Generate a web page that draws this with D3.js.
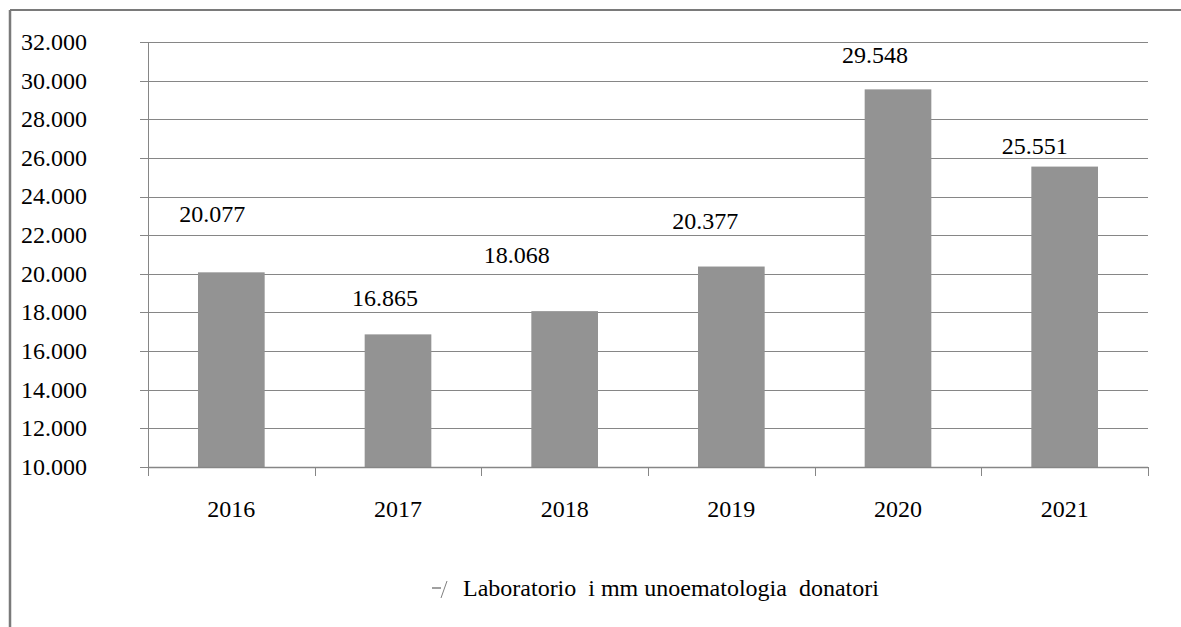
<!DOCTYPE html>
<html>
<head>
<meta charset="utf-8">
<script src="https://cdn.jsdelivr.net/npm/d3@7"></script>
<style>
  html, body { margin: 0; padding: 0; background: #fff; }
  svg { display: block; }
  text { font-family: "Liberation Serif", serif; fill: #000; }
</style>
</head>
<body>
<svg id="chart" width="1181" height="627"></svg>
<script>
// ---- data ----
const years = ["2016", "2017", "2018", "2019", "2020", "2021"];
const values = [20077, 16865, 18068, 20377, 29548, 25551];
const valueLabels = ["20.077", "16.865", "18.068", "20.377", "29.548", "25.551"];
const yTicks = [10000, 12000, 14000, 16000, 18000, 20000, 22000, 24000, 26000, 28000, 30000, 32000];
const yTickLabels = ["10.000", "12.000", "14.000", "16.000", "18.000", "20.000", "22.000", "24.000", "26.000", "28.000", "30.000", "32.000"];
const seriesName = "Laboratorio  i mm unoematologia  donatori";

// ---- layout (manual label nudges as in the original) ----
const labelNudge = [[14, 50], [20, 28], [-15, 48], [7, 38], [10, 26], [3, 13]];

const svg = d3.select("#chart");
const W = 1181, H = 627;
const plot = { left: 148, right: 1148, top: 42, bottom: 467 };
const FONT = "Liberation Serif, serif";

// frame
svg.append("line").attr("x1", 10).attr("x2", W).attr("y1", 10).attr("y2", 10)
  .attr("stroke", "#7a7a7a").attr("stroke-width", 2);
svg.append("line").attr("x1", 10).attr("x2", 10).attr("y1", 10).attr("y2", H)
  .attr("stroke", "#7a7a7a").attr("stroke-width", 2.5);

const x = d3.scaleBand().domain(years).range([plot.left, plot.right]).padding(0);
const y = d3.scaleLinear().domain([10000, 32000]).range([plot.bottom, plot.top]);

// gridlines
svg.append("g").selectAll("line").data(yTicks).join("line")
  .attr("x1", plot.left - 8).attr("x2", plot.right)
  .attr("y1", d => Math.round(y(d)) + 0.5).attr("y2", d => Math.round(y(d)) + 0.5)
  .attr("stroke", "#868686").attr("stroke-width", 1);

// y axis line
svg.append("line").attr("x1", plot.left + 0.5).attr("x2", plot.left + 0.5)
  .attr("y1", plot.top).attr("y2", plot.bottom + 1)
  .attr("stroke", "#868686");

// y labels
svg.append("g").selectAll("text").data(yTicks).join("text")
  .attr("x", 87).attr("y", d => y(d)).attr("dy", "0.33em")
  .attr("text-anchor", "end").attr("font-size", 24).attr("font-family", FONT)
  .text((d, i) => yTickLabels[i]);

// bars
const bw = x.bandwidth();
svg.append("g").selectAll("rect").data(values).join("rect")
  .attr("x", (d, i) => x(years[i]) + bw * 0.3)
  .attr("width", bw * 0.4)
  .attr("y", d => y(d))
  .attr("height", d => y(10000) - y(d))
  .attr("fill", "#939393");

// x axis
svg.append("line").attr("x1", plot.left).attr("x2", plot.right)
  .attr("y1", plot.bottom + 0.5).attr("y2", plot.bottom + 0.5)
  .attr("stroke", "#868686").attr("stroke-width", 1.5);
const edges = years.map(d => x(d)).concat([plot.right]);
svg.append("g").selectAll("line").data(edges).join("line")
  .attr("x1", d => Math.round(d) + 0.5).attr("x2", d => Math.round(d) + 0.5)
  .attr("y1", plot.bottom).attr("y2", plot.bottom + 9)
  .attr("stroke", "#868686");

svg.append("g").selectAll("text").data(years).join("text")
  .attr("x", d => x(d) + bw / 2).attr("y", 517)
  .attr("text-anchor", "middle").attr("font-size", 24).attr("font-family", FONT)
  .text(d => d);

// data labels
svg.append("g").selectAll("text").data(values).join("text")
  .attr("x", (d, i) => x(years[i]) + bw / 2 + labelNudge[i][0])
  .attr("y", (d, i) => y(d) - labelNudge[i][1])
  .attr("text-anchor", "end").attr("font-size", 24).attr("font-family", FONT)
  .text((d, i) => valueLabels[i]);

// legend
const lg = svg.append("g");
lg.append("line").attr("x1", 432).attr("x2", 441).attr("y1", 588).attr("y2", 588)
  .attr("stroke", "#808080").attr("stroke-width", 1.5);
lg.append("line").attr("x1", 447).attr("x2", 441).attr("y1", 581).attr("y2", 598)
  .attr("stroke", "#808080").attr("stroke-width", 1);
lg.append("text").attr("x", 463).attr("y", 596).attr("font-size", 24).attr("font-family", FONT)
  .style("white-space", "pre")
  .text(seriesName);
</script>
</body>
</html>
